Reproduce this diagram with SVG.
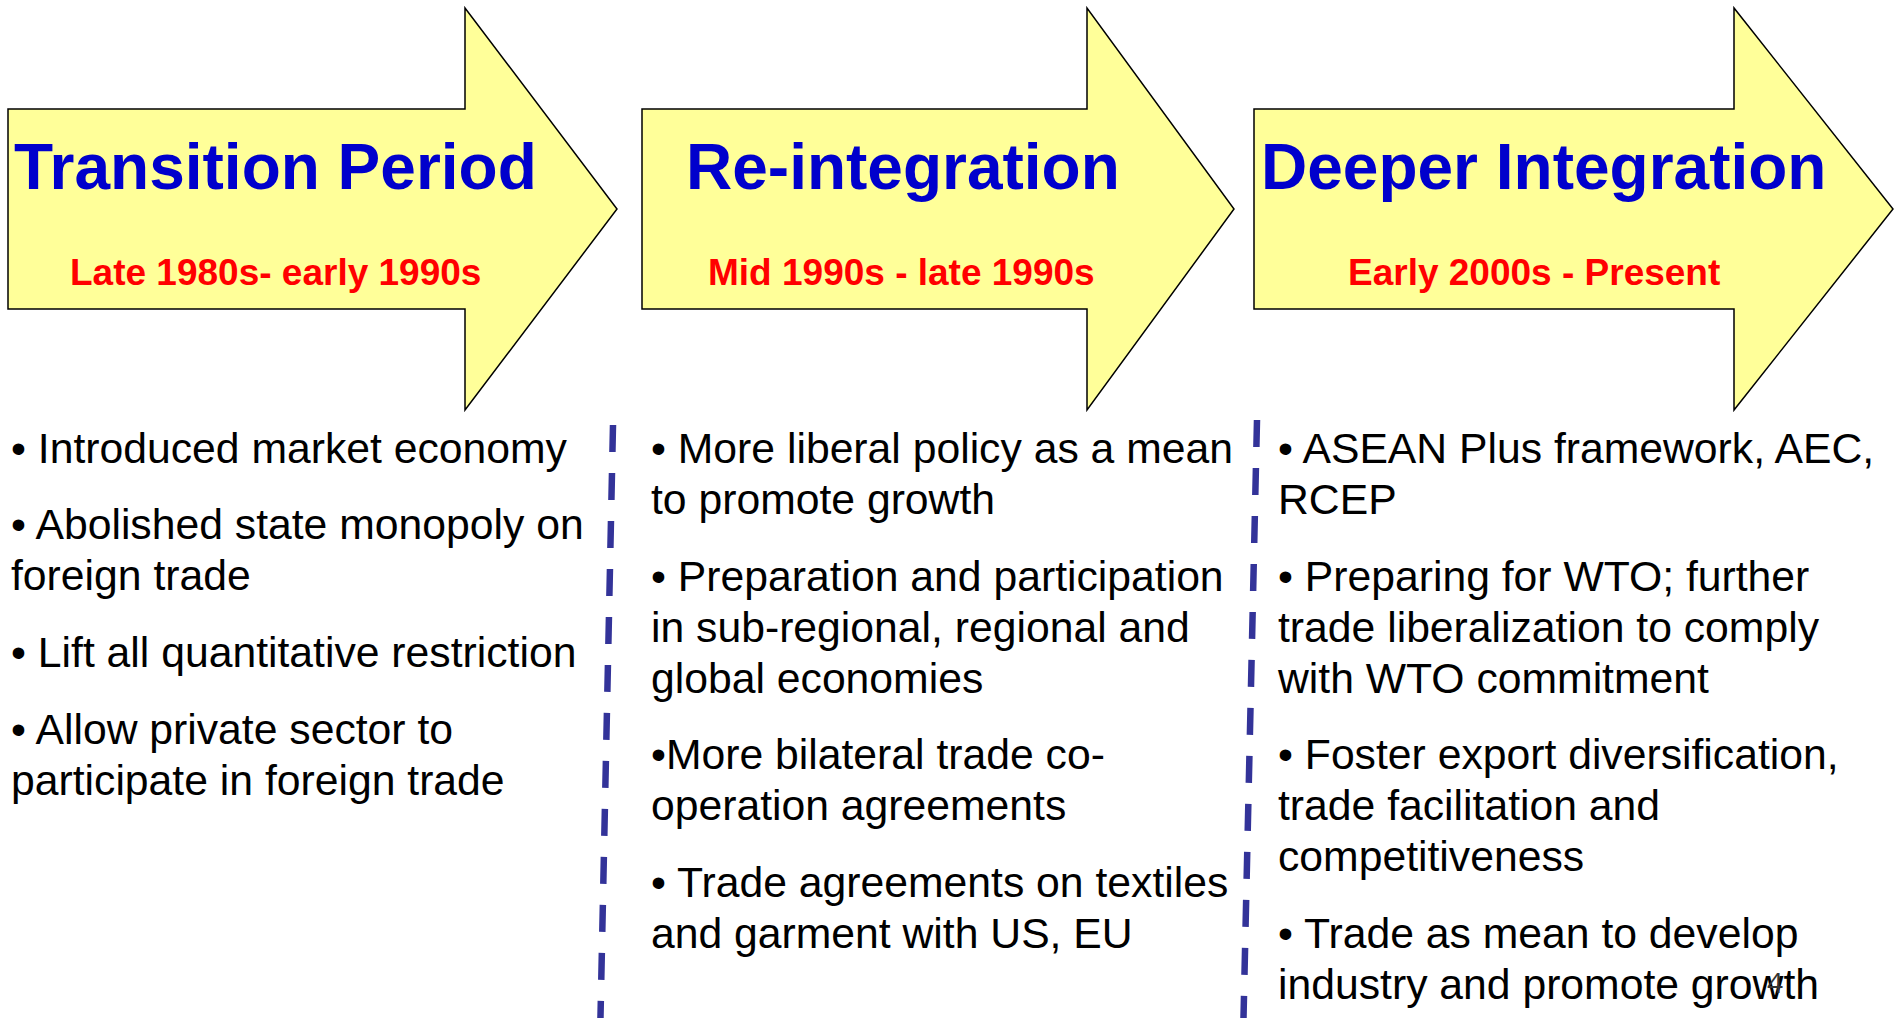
<svg xmlns="http://www.w3.org/2000/svg" width="1900" height="1018" viewBox="0 0 1900 1018">
  <style>
    .arrow { fill: #FFFF99; stroke: #000000; stroke-width: 1.5; stroke-linejoin: miter; }
    .title { font-family: "Liberation Sans", Arial, sans-serif; font-weight: bold; font-size: 64px; fill: #0000CC; }
    .period { font-family: "Liberation Sans", Arial, sans-serif; font-weight: bold; font-size: 37px; fill: #FF0000; }
    .body { font-family: "Liberation Sans", Arial, sans-serif; font-size: 42.7px; fill: #000000; }
    .divider { stroke: #333399; stroke-width: 6.5; stroke-dasharray: 27 21; fill: none; }
    .pageno { font-family: "Open Sans", "Liberation Sans", sans-serif; font-size: 28px; fill: #333333; }
  </style>

  <rect width="1900" height="1018" fill="#FFFFFF"/>

  <!-- Stage 1 -->
  <g id="stage-transition">
    <path class="arrow" d="M8,109 L465,109 L465,8 L617,209 L465,410 L465,309 L8,309 Z"/>
    <text class="title" x="14" y="189">Transition Period</text>
    <text class="period" x="70" y="285">Late 1980s- early 1990s</text>
    <g class="body">
      <text x="11" y="463">• Introduced market economy</text>
      <text x="11" y="539">• Abolished state monopoly on</text>
      <text x="11" y="590">foreign trade</text>
      <text x="11" y="667">• Lift all quantitative restriction</text>
      <text x="11" y="744">• Allow private sector to</text>
      <text x="11" y="795">participate in foreign trade</text>
    </g>
  </g>

  <!-- Stage 2 -->
  <g id="stage-reintegration">
    <path class="arrow" d="M642,109 L1087,109 L1087,8 L1234,209 L1087,410 L1087,309 L642,309 Z"/>
    <text class="title" x="686" y="189">Re-integration</text>
    <text class="period" x="708" y="285">Mid 1990s - late 1990s</text>
    <g class="body">
      <text x="651" y="463">• More liberal policy as a mean</text>
      <text x="651" y="514">to promote growth</text>
      <text x="651" y="591">• Preparation and participation</text>
      <text x="651" y="642">in sub-regional, regional and</text>
      <text x="651" y="693">global economies</text>
      <text x="651" y="769">•More bilateral trade co-</text>
      <text x="651" y="820">operation agreements</text>
      <text x="651" y="897">• Trade agreements on textiles</text>
      <text x="651" y="948">and garment with US, EU</text>
    </g>
  </g>

  <!-- Stage 3 -->
  <g id="stage-deeper">
    <path class="arrow" d="M1254,109 L1734,109 L1734,8 L1893,209 L1734,410 L1734,309 L1254,309 Z"/>
    <text class="title" x="1261" y="189">Deeper Integration</text>
    <text class="period" x="1348" y="285">Early 2000s - Present</text>
    <g class="body">
      <text x="1278" y="463">• ASEAN Plus framework, AEC,</text>
      <text x="1278" y="514">RCEP</text>
      <text x="1278" y="591">• Preparing for WTO; further</text>
      <text x="1278" y="642">trade liberalization to comply</text>
      <text x="1278" y="693">with WTO commitment</text>
      <text x="1278" y="769">• Foster export diversification,</text>
      <text x="1278" y="820">trade facilitation and</text>
      <text x="1278" y="871">competitiveness</text>
      <text x="1278" y="948">• Trade as mean to develop</text>
      <text x="1278" y="999">industry and promote growth</text>
    </g>
  </g>

  <!-- Column separators -->
  <g id="connectors">
    <line class="divider" x1="613" y1="425" x2="600" y2="1040"/>
    <line class="divider" x1="1257" y1="420" x2="1243" y2="1040"/>
  </g>

  <text class="pageno" x="1767" y="993">4</text>
</svg>
